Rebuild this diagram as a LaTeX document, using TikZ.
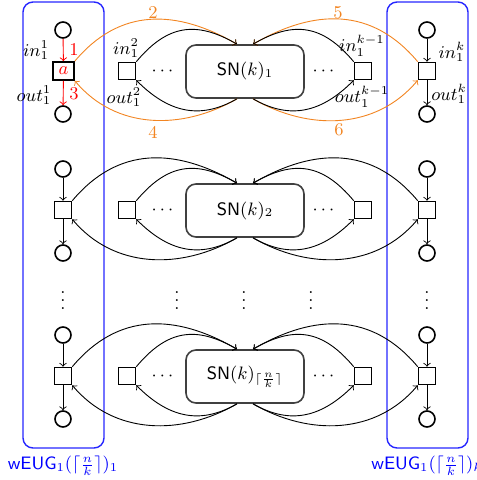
\documentclass[tikz,border=0pt]{standalone}
\usepackage{amsmath}
\definecolor{myorange}{RGB}{242,133,34}
\begin{document}
\begin{tikzpicture}[x=0.5pt,y=-0.5pt, font=\fontsize{9}{11}\selectfont,
  place/.style={circle,draw,thick,minimum size=8pt,inner sep=0pt},
  trans/.style={rectangle,draw,thick,minimum size=8.5pt,inner sep=0pt},
  snbox/.style={draw=black!75,thick,rounded corners=5pt,minimum width=59pt,minimum height=26.5pt,inner sep=0pt},
  grp/.style={draw=blue!85,line width=0.7pt,rounded corners=5pt,minimum width=40.5pt,minimum height=223pt,inner sep=0pt},
  grplabel/.style={text=blue},
  arc/.style={->,line width=0.45pt},
  num/.style={text=myorange},
  rednum/.style={text=red}
]
\useasboundingbox (0,0) rectangle (476,480);

% groups
\node[grp] (g1) at (63.5,225) {};
\node[grp] (gk) at (427.5,225) {};
\node[grplabel] (g1l) at (63,466) {\textsf{wEUG}$_1(\lceil\frac{n}{k}\rceil)_1$};
\node[grplabel] (gkl) at (427,466) {\textsf{wEUG}$_1(\lceil\frac{n}{k}\rceil)_k$};

% rows
\foreach \r/\Y in {1/71,2/210,3/376} {
  \node[place] (lt\r) at (63,\Y-41) {};
  \node[place] (lb\r) at (63,\Y+43) {};
  \node[place] (rt\r) at (427,\Y-41) {};
  \node[place] (rb\r) at (427,\Y+43) {};
  \node[trans] (ra\r) at (427,\Y) {};
  \node[trans] (li\r) at (127,\Y) {};
  \node[trans] (ri\r) at (363,\Y) {};
  \node (ld\r) at (164,\Y) {$\cdots$};
  \node (rd\r) at (325,\Y) {$\cdots$};
}
\node[trans,minimum width=10.5pt,minimum height=9pt,text=red] (la1) at (63.5,71) {$a$};
\node[trans] (la2) at (63,210) {};
\node[trans] (la3) at (63,376) {};

\node[snbox] (sn1) at (245,71.5) {\textsf{SN}$(k)_1$};
\node[snbox] (sn2) at (245,210.5) {\textsf{SN}$(k)_2$};
\node[snbox] (sn3) at (245,376.5) {\textsf{SN}$(k)_{\lceil\frac{n}{k}\rceil}$};

% vertical dots
\foreach \x [count=\i] in {63,177,244,311,427} {
  \node (vd\i) at (\x,295) {$\vdots$};
}

% column arrows
\draw[arc,red] (lt1) -- (la1);
\draw[arc,red] (la1) -- (lb1);
\foreach \r in {2,3} {
  \draw[arc] (lt\r) -- (la\r);
  \draw[arc] (la\r) -- (lb\r);
}
\foreach \r in {1,2,3} {
  \draw[arc] (rt\r) -- (ra\r);
  \draw[arc] (ra\r) -- (rb\r);
}

% connections to SN boxes
\foreach \r/\c in {1/myorange,2/black,3/black} {
  \draw[arc,\c] (la\r.north east) to[out=50,in=150,looseness=1.1] ([xshift=-4pt]sn\r.north);
  \draw[arc] (li\r.north east) to[out=50,in=150,looseness=1.2] ([xshift=-4pt]sn\r.north);
  \draw[arc,\c] ([xshift=-4pt]sn\r.south) to[out=-150,in=-50,looseness=1.0] (la\r.south east);
  \draw[arc] ([xshift=-4pt]sn\r.south) to[out=-150,in=-45,looseness=1.1] (li\r.south east);
  \draw[arc,\c] (ra\r.north west) to[out=130,in=30,looseness=1.1] ([xshift=4pt]sn\r.north);
  \draw[arc] (ri\r.north west) to[out=130,in=30,looseness=1.2] ([xshift=4pt]sn\r.north);
  \draw[arc,\c] ([xshift=4pt]sn\r.south) to[out=-30,in=-130,looseness=1.0] (ra\r.south west);
  \draw[arc] ([xshift=4pt]sn\r.south) to[out=-30,in=-135,looseness=1.1] (ri\r.south west);
}

% labels
\node (lin) at (36,50) {$in_1^1$};
\node (lout) at (34,95) {$out_1^1$};
\node[rednum] (n1) at (74,50) {1};
\node[rednum] (n3) at (74,94) {3};
\node (iin) at (126,48) {$in_1^2$};
\node (iout) at (124,97) {$out_1^2$};
\node (rin) at (362,46) {$in_1^{k-1}$};
\node (rout) at (362,97) {$out_1^{k-1}$};
\node (kin) at (452,52) {$in_1^k$};
\node (kout) at (449,94) {$out_1^k$};
\node[num] (n2) at (153,13) {2};
\node[num] (n4) at (153,132) {4};
\node[num] (n5) at (338,13) {5};
\node[num] (n6) at (339,130) {6};
\end{tikzpicture}
\end{document}
